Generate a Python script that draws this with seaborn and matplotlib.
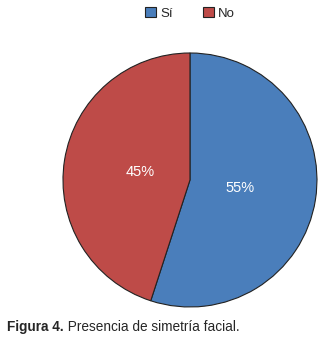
import matplotlib
matplotlib.use("Agg")
import matplotlib.pyplot as plt
import seaborn as sns
from matplotlib.patches import Patch

sns.set_style("white")
plt.rcParams['font.family'] = ['Liberation Sans', 'DejaVu Sans']

categories = ["Sí", "No"]
values = [55, 45]
colors = ["#4A7EBB", "#BE4B48"]
caption_bold = "Figura 4."
caption_rest = " Presencia de simetría facial."

fig = plt.figure(figsize=(3.25, 3.43), dpi=100)
ax = fig.add_axes([0.1938, 0.105, 0.7815, 0.7405])
wedges, texts, autotexts = ax.pie(
    values, colors=colors, startangle=90, counterclock=False,
    autopct=lambda p: f"{p:.0f}%", pctdistance=0.4,
    wedgeprops=dict(linewidth=0.8, edgecolor="#222222"),
    textprops=dict(color="white", fontsize=10.5),
    radius=1.0,
)
ax.set_xlim(-1.0, 1.0)
ax.set_ylim(-1.0, 1.0)
ax.set_aspect("equal")

handles = [Patch(facecolor=c, edgecolor="#222222", linewidth=0.8) for c in colors]
fig.legend(handles, categories, loc="center", bbox_to_anchor=(0.585, 0.96),
           ncol=2, frameon=False, fontsize=9.5, handlelength=0.8, handleheight=0.8,
           handletextpad=0.35, columnspacing=2.3)

t = fig.text(0.022, 0.047, caption_bold, fontsize=9.8, fontweight="bold", ha="left", va="center")
fig.canvas.draw()
bb = t.get_window_extent()
x_next = bb.x1 / fig.bbox.width
fig.text(x_next, 0.047, caption_rest, fontsize=9.8, ha="left", va="center")

fig.savefig("out.png", dpi=100)
